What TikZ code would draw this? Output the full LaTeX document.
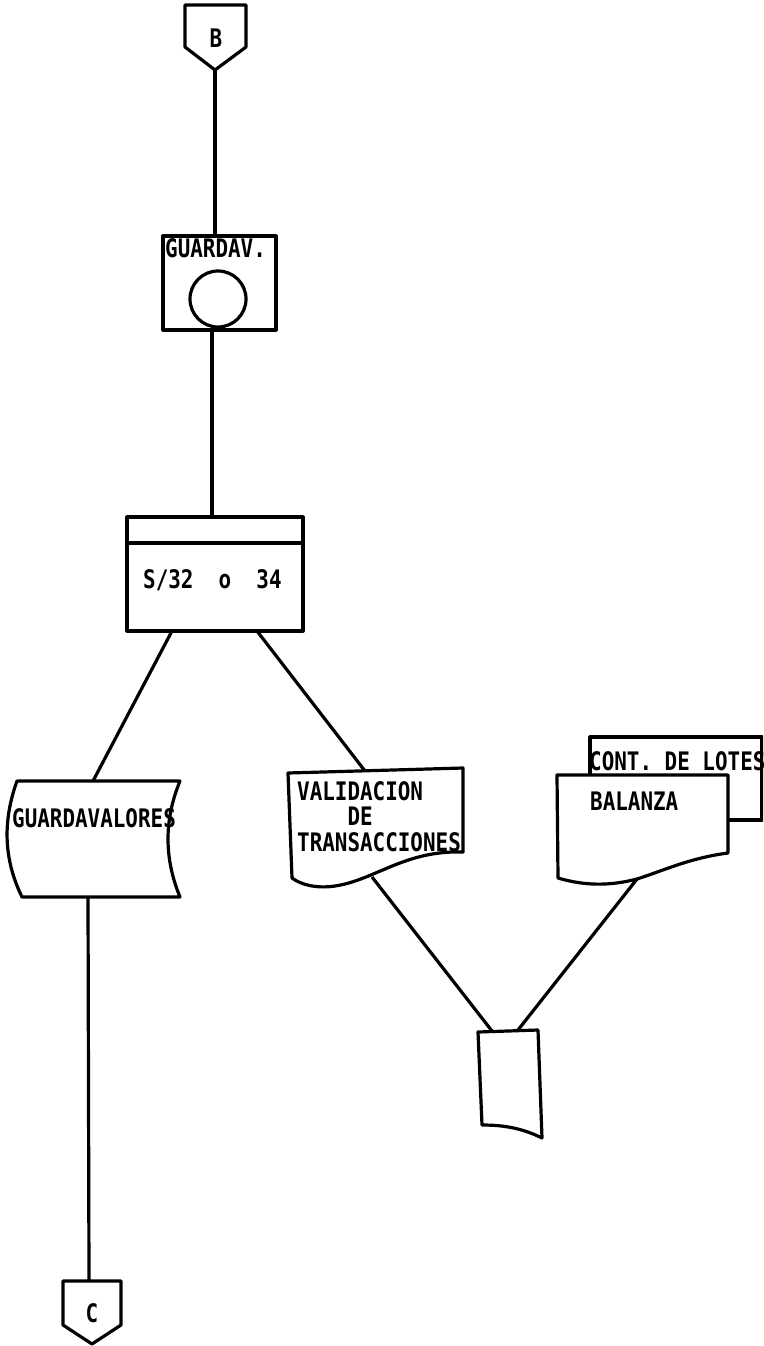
\documentclass[tikz,border=0pt]{standalone}
\usepackage{fontspec}
\newfontfamily\plotfont[FakeStretch=0.82]{DejaVu Sans Mono Bold}
\begin{document}
\begin{tikzpicture}[x=1pt,y=-1pt,
  shp/.style={draw, line width=3.2pt, line join=round},
  conn/.style={draw, line width=3.2pt},
  lbl/.style={anchor=base west, inner sep=0, font=\plotfont\fontsize{25.5}{26}\selectfont},
  ctr/.style={anchor=center, inner sep=0, font=\plotfont\fontsize{25.5}{26}\selectfont}]
\useasboundingbox (0,0) rectangle (763,1346);
\clip (0,0) rectangle (763,1346);

% connector B
\draw[shp] (185,5) -- (246,5) -- (246,47) -- (215,70) -- (185,47) -- cycle;
\node[ctr] (B) at (216,38) {B};
\coordinate (Bout) at (215,70);

% GUARDAV. box
\draw[shp] (163,236) rectangle (276,330);
\node[lbl] (gvtxt) at (165,257) {GUARDAV.};
\node[draw, circle, line width=3.2pt, minimum size=56pt, inner sep=0] (gvc) at (218,299) {};
\coordinate (gvtop) at (215,236);
\coordinate (gvbot) at (212,330);

% S/32 box
\draw[shp] (127,517) rectangle (303,631);
\draw[shp] (127,543) -- (303,543);
\node[lbl] (s32) at (143,588) {S/32\ \ o\ \ 34};
\coordinate (s32top) at (212,517);
\coordinate (s32bl) at (172,631);
\coordinate (s32br) at (257,631);

% GUARDAVALORES storage
\draw[shp] (17,781) -- (180,781) .. controls (164,820) and (164,858) .. (180,897)
  -- (22,897) .. controls (3,858) and (3,820) .. (17,781) -- cycle;
\node[lbl] (gval) at (12,827) {GUARDAVALORES};
\coordinate (gvaltop) at (93,781);
\coordinate (gvalbot) at (88,897);

% VALIDACION document
\draw[shp] (288,773) -- (463,768) -- (463,852)
  .. controls (405,850) and (375,880) .. (335,886)
  .. controls (315,889) and (300,884) .. (292,878) -- cycle;
\node[lbl] (val1) at (297,800) {VALIDACION};
\node[lbl] (val2) at (297,825) {\ \ \ \ DE};
\node[lbl] (val3) at (297,851) {TRANSACCIONES};
\coordinate (valtop) at (365,771);
\coordinate (valbot) at (372,877);

% CONT. DE LOTES (back) and BALANZA (front)
\draw[shp] (590,775) -- (590,737) -- (762,737) -- (762,820) -- (728,820);
\node[lbl] (cont) at (589,770) {CONT. DE LOTES};
\draw[shp, fill=white] (557,775) -- (728,775) -- (728,853)
  .. controls (690,858) and (665,870) .. (637,879)
  .. controls (610,886) and (585,886) .. (558,878) -- cycle;
\node[lbl] (bal) at (590,810) {BALANZA};
\coordinate (balbot) at (637,879);

% small document
\draw[shp] (478,1032) -- (538,1030) -- (542,1138)
  .. controls (520,1127) and (500,1125) .. (482,1125) -- cycle;
\coordinate (sdl) at (492,1031);
\coordinate (sdr) at (518,1030);

% connector C
\draw[shp] (63,1281) -- (121,1281) -- (121,1325) -- (92,1344) -- (63,1325) -- cycle;
\node[ctr] (C) at (92,1313) {C};
\coordinate (Cin) at (89,1281);

% connectors
\draw[conn] (Bout) -- (gvtop);
\draw[conn] (gvbot) -- (s32top);
\draw[conn] (s32bl) -- (gvaltop);
\draw[conn] (s32br) -- (valtop);
\draw[conn] (gvalbot) -- (Cin);
\draw[conn] (valbot) -- (sdl);
\draw[conn] (balbot) -- (sdr);
\end{tikzpicture}
\end{document}
